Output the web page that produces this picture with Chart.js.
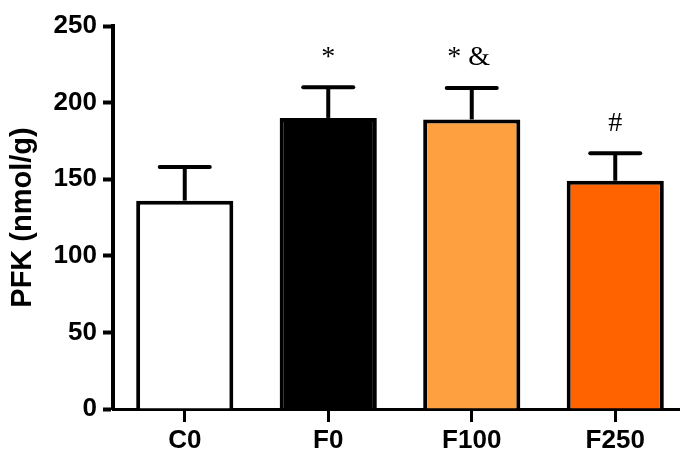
<!DOCTYPE html>
<html>
<head>
<meta charset="utf-8">
<script src="https://cdn.jsdelivr.net/npm/chart.js@4/dist/chart.umd.min.js"></script>
<style>
  html, body { margin: 0; padding: 0; background: #fff; overflow: hidden; }
  #wrap { width: 680px; height: 450px; overflow: hidden; }
  canvas { display: block; }
</style>
</head>
<body>
<div id="wrap"><canvas id="chart" width="700" height="450"></canvas></div>
<script>
// PFK activity per group (mean and SEM, nmol/g)
const groups = ['C0', 'F0', 'F100', 'F250'];
const pfkMean = [136, 190, 189, 149];
const pfkSem = [22, 20, 20.5, 18];
const marks = ['', '*', '* &', '#'];
const yTicks = [0, 50, 100, 150, 200, 250];
const fills = ['#ffffff', '#000000', '#ffa040', '#ff6300'];

const FONT = '"Liberation Sans", Arial, sans-serif';
const SERIF = '"Liberation Serif", "Times New Roman", serif';

// Upper error bars plus significance marks above them
const errorBars = {
  id: 'errorBars',
  afterDatasetsDraw(chart) {
    const ctx = chart.ctx;
    const y = chart.scales.y;
    const meta = chart.getDatasetMeta(0);
    ctx.save();
    ctx.strokeStyle = '#000';
    ctx.lineWidth = 4;
    meta.data.forEach((bar, i) => {
      const top = y.getPixelForValue(pfkMean[i]);
      const cap = y.getPixelForValue(pfkMean[i] + pfkSem[i]);
      ctx.lineCap = 'butt';
      ctx.beginPath();
      ctx.moveTo(bar.x, top);
      ctx.lineTo(bar.x, cap);
      ctx.stroke();
      ctx.lineCap = 'round';
      ctx.beginPath();
      ctx.moveTo(bar.x - 25, cap);
      ctx.lineTo(bar.x + 25, cap);
      ctx.stroke();
      if (marks[i]) {
        ctx.fillStyle = '#000';
        ctx.font = '28px ' + SERIF;
        ctx.textAlign = 'center';
        ctx.textBaseline = 'middle';
        const dx = marks[i].length > 1 ? -3 : 0;
        ctx.fillText(marks[i], bar.x + dx, cap - 30);
      }
    });
    ctx.restore();
  }
};

new Chart(document.getElementById('chart'), {
  type: 'bar',
  data: {
    labels: groups,
    datasets: [{
      data: pfkMean,
      backgroundColor: fills,
      borderColor: '#000',
      borderWidth: 4,
      borderSkipped: 'start',
      categoryPercentage: 1,
      barPercentage: 0.677
    }]
  },
  options: {
    responsive: false,
    animation: false,
    layout: { padding: { top: 26, right: 13, left: 0, bottom: 0 } },
    plugins: { legend: { display: false }, tooltip: { enabled: false } },
    scales: {
      x: {
        offset: true,
        grid: {
          display: true, offset: false, drawOnChartArea: false,
          drawTicks: true, tickLength: 13, tickWidth: 3, tickColor: '#000'
        },
        border: { display: true, color: '#000', width: 3 },
        ticks: { color: '#000', padding: 3, font: { family: FONT, size: 26, weight: 'bold' } },
        afterFit(scale) { scale.height = 41; }
      },
      y: {
        min: 0,
        max: 250,
        afterBuildTicks(scale) { scale.ticks = yTicks.map(v => ({ value: v })); },
        grid: {
          display: true, drawOnChartArea: false,
          drawTicks: true, tickLength: 10, tickWidth: 4, tickColor: '#000'
        },
        border: { display: true, color: '#000', width: 4 },
        ticks: { color: '#000', padding: 6, font: { family: FONT, size: 26, weight: 'bold' } },
        title: {
          display: true,
          text: 'PFK (nmol/g)',
          color: '#000',
          padding: { top: 6, bottom: 0 },
          font: { family: FONT, size: 29, weight: 'bold', lineHeight: 1.2 }
        },
        afterFit(scale) { scale.width = 113; }
      }
    }
  },
  plugins: [errorBars]
});
</script>
</body>
</html>
